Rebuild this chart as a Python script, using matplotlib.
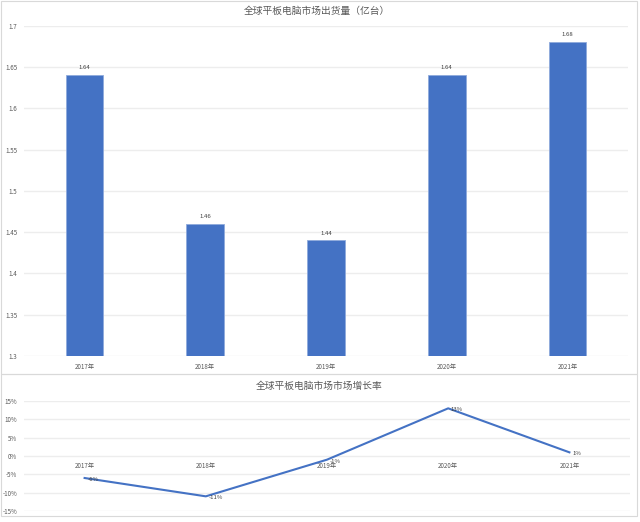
import matplotlib
matplotlib.use("Agg")
import matplotlib.pyplot as plt
from matplotlib.patches import Rectangle
from matplotlib.ticker import FuncFormatter

plt.rcParams['font.family'] = ['Noto Sans CJK SC', 'DejaVu Sans']

years = ['2017年', '2018年', '2019年', '2020年', '2021年']
shipments = [1.64, 1.46, 1.44, 1.64, 1.68]
shipment_labels = ['1.64', '1.46', '1.44', '1.64', '1.68']
growth = [-0.06, -0.11, -0.01, 0.13, 0.01]
growth_labels = ['-6%', '-11%', '-1%', '13%', '1%']
top_ticks = [1.3, 1.35, 1.4, 1.45, 1.5, 1.55, 1.6, 1.65, 1.7]
bottom_ticks = [-0.15, -0.10, -0.05, 0, 0.05, 0.10, 0.15]

title_top = '全球平板电脑市场出货量（亿台）'
title_bottom = '全球平板电脑市场市场增长率'

BLUE = '#4472C4'
GRID = '#EDEDED'
TXT = '#595959'

W, H = 640, 522
fig = plt.figure(figsize=(6.4, 5.22), dpi=100)
fig.patch.set_facecolor('white')

def fx(px):
    return px / W

def fy(py):
    return 1 - py / H

# chart borders (spreadsheet chart frames)
fig.add_artist(Rectangle((fx(0.5), fy(374)), fx(636), fy(0) - fy(374) - 0.001,
                         transform=fig.transFigure, fill=False, ec='#D9D9D9', lw=0.8))
fig.add_artist(Rectangle((fx(0.5), fy(516)), fx(636), fy(374) - fy(516),
                         transform=fig.transFigure, fill=False, ec='#D9D9D9', lw=0.8))

# ---- top chart ----
ax1 = fig.add_axes([fx(24), fy(356), fx(628 - 24), fy(25.7) - fy(356)])
x = list(range(len(years)))
ax1.bar(x, shipments, width=0.31, color=BLUE, edgecolor='#8FAADC', linewidth=0.6, zorder=3)
ax1.set_xlim(-0.5, len(years) - 0.5)
ax1.set_ylim(1.3, 1.7)
ax1.set_yticks(top_ticks)
ax1.set_yticklabels([f'{t:g}' for t in top_ticks])
ax1.set_xticks(x)
ax1.set_xticklabels(years)
ax1.grid(axis='y', color=GRID, lw=1.0, zorder=0)
for s in ax1.spines.values():
    s.set_visible(False)
ax1.tick_params(length=0, labelsize=4.5, colors=TXT, pad=5)
ax1.tick_params(axis='y', pad=5)
for xi, v, lab in zip(x, shipments, shipment_labels):
    ax1.annotate(lab, (xi, v), xytext=(0, 3.5), textcoords='offset points',
                 ha='center', va='bottom', fontsize=4.3, color='#404040')
fig.text(fx(317), fy(11), title_top, ha='center', va='center', fontsize=7, color=TXT)

# ---- bottom chart ----
ax2 = fig.add_axes([fx(24), fy(511), fx(630 - 24), fy(401) - fy(511)])
ax2.plot(x, growth, color=BLUE, lw=1.5, zorder=3)
ax2.set_xlim(-0.5, len(years) - 0.5)
ax2.set_ylim(-0.15, 0.15)
ax2.set_yticks(bottom_ticks)
ax2.yaxis.set_major_formatter(FuncFormatter(lambda v, p: f'{round(v * 100):d}%'))
ax2.set_xticks(x)
ax2.set_xticklabels(years)
ax2.spines['bottom'].set_position(('data', 0))
for s in ax2.spines.values():
    s.set_visible(False)
ax2.grid(axis='y', color=GRID, lw=1.0, zorder=0)
ax2.tick_params(length=0, labelsize=4.5, colors=TXT)
ax2.tick_params(axis='x', pad=4.5)
ax2.tick_params(axis='y', pad=5)
for xi, v, lab in zip(x, growth, growth_labels):
    ax2.annotate(lab, (xi, v), xytext=(2, -1), textcoords='offset points',
                 ha='left', va='center', fontsize=4.3, color='#404040')
fig.text(fx(319.5), fy(386), title_bottom, ha='center', va='center', fontsize=7, color=TXT)

fig.savefig('out.png', dpi=100, facecolor='white')
